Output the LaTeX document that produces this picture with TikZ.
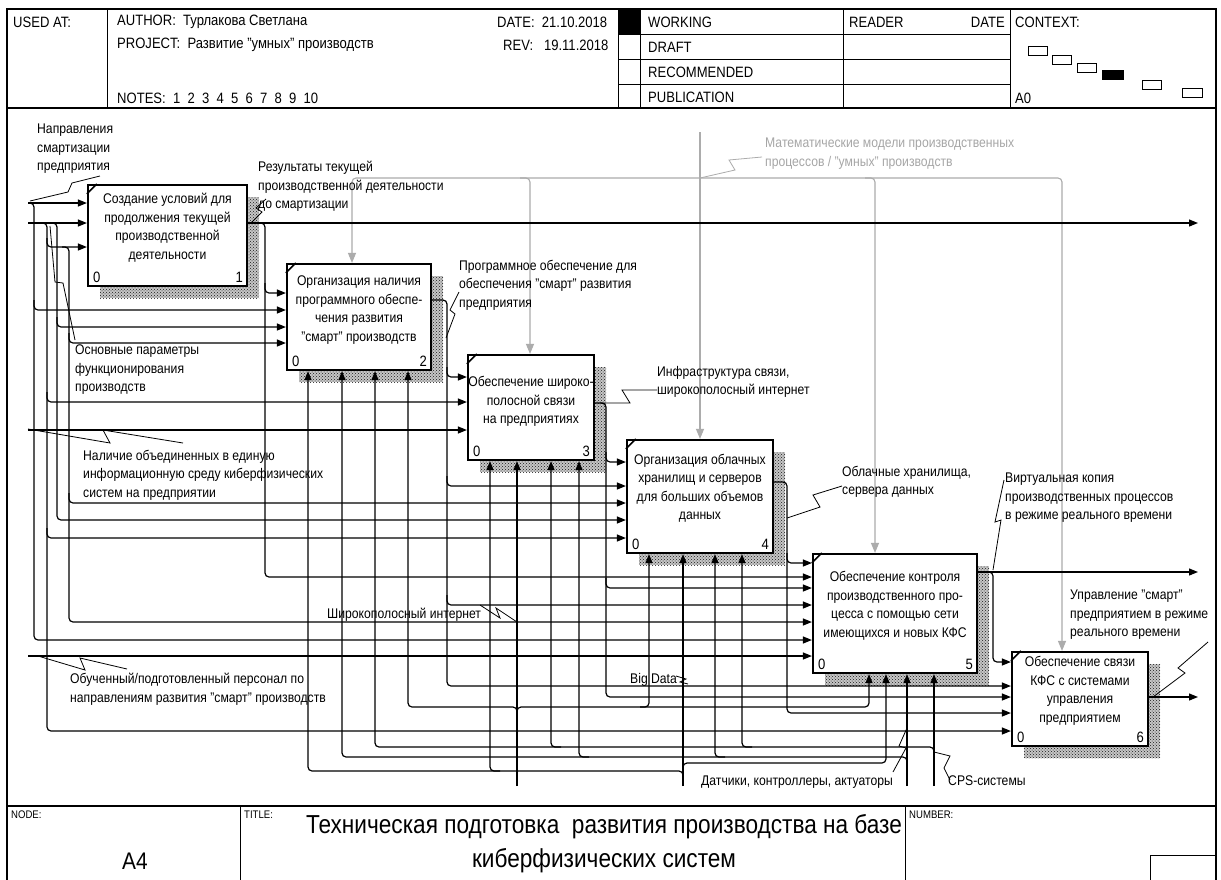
\documentclass[tikz,border=0pt]{standalone}
\usepackage{fontspec}
\setmainfont[FakeStretch=0.87]{Liberation Sans}
\usetikzlibrary{arrows.meta,patterns}
\tikzset{
  wire/.style={line width=1.2pt, rounded corners=4pt},
  arr/.style={wire, -{Triangle[length=9pt,width=7pt]}},
  gwire/.style={line width=1.1pt, draw=gray!65, rounded corners=4pt},
  garr/.style={gwire, -{Triangle[length=10pt,width=8pt]}},
  leader/.style={line width=0.8pt},
  gleader/.style={line width=0.8pt, draw=gray!65},
  box/.style={draw, line width=2.2pt, fill=white, inner sep=0pt},
  shadowfill/.style={preaction={fill=gray!45}, pattern=crosshatch dots, pattern color=black!90},
  lbl/.style={font=\fontsize{14}{18.5}\selectfont, inner sep=0pt, align=left, anchor=north west},
  btxt/.style={font=\fontsize{14}{18.5}\selectfont, inner sep=0pt, align=center},
  hdr/.style={font=\fontsize{15}{18}\selectfont, inner sep=0pt, anchor=west},
  small/.style={font=\fontsize{11}{13}\selectfont, inner sep=0pt, anchor=west},
  num/.style={font=\fontsize{15}{18}\selectfont, inner sep=0pt},
  ctx/.style={draw, line width=1pt}
}
\begin{document}
\begin{tikzpicture}[x=1pt,y=-1pt]
\useasboundingbox (0,0) rectangle (1221,879);
\fill[white] (0,0) rectangle (1221,879);

% ---------------- frame, header, footer
\draw[line width=1.3pt] (7,9) rectangle (1216,885);
\draw[line width=1.3pt] (7,108) -- (1216,108);
\draw[line width=1pt] (107,9) -- (107,108);
\draw[line width=1pt] (618,9) -- (618,108);
\draw[line width=1pt] (640,9) -- (640,108);
\draw[line width=1pt] (843,9) -- (843,108);
\draw[line width=1pt] (1010,9) -- (1010,108);
\draw[line width=1pt] (618,34) -- (1010,34);
\draw[line width=1pt] (618,59) -- (1010,59);
\draw[line width=1pt] (618,84) -- (1010,84);
\fill[black] (618,9) rectangle (640,34);

\node[hdr] (usedat) at (13,22) {USED AT:};
\node[hdr] (author) at (117,22) {AUTHOR:\ \ Турлакова Светлана};
\node[hdr] (project) at (117,45) {PROJECT:\ \ Развитие "умных" производств};
\node[hdr] (notes) at (117,98) {NOTES:\ \ 1\ \ 2\ \ 3\ \ 4\ \ 5\ \ 6\ \ 7\ \ 8\ \ 9\ \ 10};
\node[hdr] (date) at (497,22) {DATE:\ \ 21.10.2018};
\node[hdr] (rev) at (503,45) {REV:\ \ \ 19.11.2018};
\node[hdr] (working) at (648,22) {WORKING};
\node[hdr] (draft) at (648,47) {DRAFT};
\node[hdr] (recommended) at (648,72) {RECOMMENDED};
\node[hdr] (publication) at (648,97) {PUBLICATION};
\node[hdr] (reader) at (849,22) {READER};
\node[hdr, anchor=east] (rdate) at (1005,22) {DATE};
\node[hdr] (context) at (1015,22) {CONTEXT:};
\node[hdr] (a0) at (1015,98) {A0};
\draw[ctx] (1028,46) rectangle (1047,55);
\draw[ctx] (1052,55) rectangle (1071,64);
\draw[ctx] (1077,63) rectangle (1096,72);
\fill[black] (1102,70) rectangle (1124,80);
\draw[ctx] (1142,80) rectangle (1161,89);
\draw[ctx] (1182,88) rectangle (1202,97);

\draw[line width=1.3pt] (7,806) -- (1216,806);
\draw[line width=1pt] (240,806) -- (240,885);
\draw[line width=1pt] (905,806) -- (905,885);
\draw[line width=1pt] (1150,855) rectangle (1216,885);
\node[small] (nodelbl) at (11,815) {NODE:};
\node[small] (titlelbl) at (244,815) {TITLE:};
\node[small] (numberlbl) at (909,815) {NUMBER:};
\node[font=\fontsize{24}{28}\selectfont, inner sep=0pt] (a4) at (135,861) {A4};
\node[font=\fontsize{26}{34}\selectfont, inner sep=0pt, align=center] (title) at (604,844)
  {Техническая подготовка~ развития производства на базе\\киберфизических систем};

% ---------------- shadows
\fill[shadowfill] (100,197) rectangle (259,298);
\fill[shadowfill] (299,276) rectangle (443,382);
\fill[shadowfill] (480,367) rectangle (606,472);
\fill[shadowfill] (639,452) rectangle (785,565);
\fill[shadowfill] (825,566) rectangle (989,685);
\fill[shadowfill] (1024,664) rectangle (1160,758);

% ---------------- boxes
\node[box, minimum width=159pt, minimum height=101pt] (b1) at (167.5,235.5) {};
\node[box, minimum width=144pt, minimum height=106pt] (b2) at (359,317) {};
\node[box, minimum width=126pt, minimum height=105pt] (b3) at (531,407.5) {};
\node[box, minimum width=146pt, minimum height=113pt] (b4) at (700,496.5) {};
\node[box, minimum width=164pt, minimum height=119pt] (b5) at (895,613.5) {};
\node[box, minimum width=136pt, minimum height=94pt] (b6) at (1080,699) {};

\foreach \b in {b1,b2,b3,b4,b5,b6}{
  \draw[line width=1.6pt] ([yshift=-10pt]\b.north west) -- ([xshift=10pt]\b.north west);
  \node[num, anchor=south west] at ([xshift=6pt,yshift=4pt]\b.south west) {0};
}
\node[num, anchor=south east] (n1) at ([xshift=-5pt,yshift=4pt]b1.south east) {1};
\node[num, anchor=south east] (n2) at ([xshift=-5pt,yshift=4pt]b2.south east) {2};
\node[num, anchor=south east] (n3) at ([xshift=-5pt,yshift=4pt]b3.south east) {3};
\node[num, anchor=south east] (n4) at ([xshift=-5pt,yshift=4pt]b4.south east) {4};
\node[num, anchor=south east] (n5) at ([xshift=-5pt,yshift=4pt]b5.south east) {5};
\node[num, anchor=south east] (n6) at ([xshift=-5pt,yshift=4pt]b6.south east) {6};

\node[btxt] (t1) at ([yshift=8pt]b1.center) {Создание условий для\\продолжения текущей\\производственной\\деятельности};
\node[btxt] (t2) at ([yshift=7pt]b2.center) {Организация наличия\\программного обеспе-\\чения развития\\"смарт" производств};
\node[btxt] (t3) at ([yshift=6pt]b3.center) {Обеспечение широко-\\полосной связи\\на предприятиях};
\node[btxt] (t4) at ([yshift=8pt]b4.center) {Организация облачных\\хранилищ и серверов\\для больших объемов\\данных};
\node[btxt] (t5) at ([yshift=8pt]b5.center) {Обеспечение контроля\\производственного про-\\цесса с помощью сети\\имеющихся и новых КФС};
\node[btxt] (t6) at ([yshift=8pt]b6.center) {Обеспечение связи\\КФС с системами\\управления\\предприятием};

% ---------------- controls (gray)
\draw[garr] (700,132) -- (b4.north);
\draw[garr] (700,178) -- (352,178) -- (b2.north -| 352,0);
\draw[garr] (520,178) -- (530,178) -- (b3.north -| 530,0);
\draw[garr] (700,178) -- (1062,178) -- (b6.north -| 1062,0);
\draw[garr] (865,178) -- (875,178) -- (b5.north -| 875,0);

% ---------------- left boundary inputs and buses
\draw[arr] (28,203) -- (b1.west |- 0,203);
\draw[arr] (28,203) -- (34,203) -- (34,640) -- (b5.west |- 0,640);
\draw[arr] (34,300) -- (34,310) -- (b2.west |- 0,310);
\draw[arr] (28,223) -- (b1.west |- 0,223);
\draw[arr] (40,223) -- (47,223) -- (47,731) -- (b6.west |- 0,731);
\draw[arr] (47,238) -- (47,247) -- (b1.west |- 0,247);
\draw[arr] (47,392) -- (47,402) -- (b3.west |- 0,402);
\draw[arr] (47,528) -- (47,538) -- (b4.west |- 0,538);
\draw[arr] (50,223) -- (57,223) -- (57,520) -- (b4.west |- 0,520);
\draw[arr] (57,317) -- (57,327) -- (b2.west |- 0,327);
\draw[arr] (62,247) -- (69,247) -- (69,622) -- (b5.west |- 0,622);
\draw[arr] (69,333) -- (69,343) -- (b2.west |- 0,343);
\draw[arr] (69,493) -- (69,503) -- (b4.west |- 0,503);
\draw[arr] (28,430) -- (b3.west |- 0,430);
\draw[arr] (28,656) -- (b5.west |- 0,656);

% ---------------- outputs
\draw[arr] (b1.east |- 0,223) -- (1198,223);
\draw[arr] (257,223) -- (265,223) -- (265,577) -- (b5.west |- 0,577);
\draw[arr] (265,283) -- (265,293) -- (b2.west |- 0,293);

\draw[arr] (b2.east |- 0,300) -- (447,300) -- (447,686) -- (b6.west |- 0,686);
\draw[arr] (447,367) -- (447,377) -- (b3.west |- 0,377);
\draw[arr] (447,476) -- (447,486) -- (b4.west |- 0,486);
\draw[arr] (447,595) -- (447,605) -- (b5.west |- 0,605);

\draw[arr] (b3.east |- 0,403) -- (606,403) -- (606,697) -- (b6.west |- 0,697);
\draw[arr] (606,452) -- (606,462) -- (b4.west |- 0,462);
\draw[arr] (606,578) -- (606,588) -- (b5.west |- 0,588);

\draw[arr] (b4.east |- 0,482) -- (787,482) -- (787,713) -- (b6.west |- 0,713);
\draw[arr] (787,553) -- (787,563) -- (b5.west |- 0,563);

\draw[arr] (b5.east |- 0,572) -- (1198,572);
\draw[arr] (985,572) -- (993,572) -- (993,662) -- (b6.west |- 0,662);

\draw[arr] (b6.east |- 0,697) -- (1198,697);

% ---------------- mechanisms
\draw[arr] (517,786) -- (b3.south -| 517,0);
\draw[arr] (517,717) -- (517,707) -- (408,707) -- (b2.south -| 408,0);
\draw[arr] (517,717) -- (517,707) -- (869,707) -- (b5.south -| 869,0);
\draw[arr] (640,707) -- (649,707) -- (b4.south -| 649,0);

\draw[arr] (683,786) -- (b4.south -| 683,0);
\draw[arr] (683,781) -- (683,771) -- (308,771) -- (b2.south -| 308,0);
\draw[arr] (500,771) -- (490,771) -- (b3.south -| 490,0);
\draw[arr] (683,773) -- (683,763) -- (886,763) -- (b5.south -| 886,0);

\draw[arr] (907,786) -- (b5.south -| 907,0);
\draw[arr] (907,767) -- (907,757) -- (342,757) -- (b2.south -| 342,0);
\draw[arr] (589,757) -- (579,757) -- (b3.south -| 579,0);
\draw[arr] (725,757) -- (715,757) -- (b4.south -| 715,0);

\draw[arr] (934,786) -- (b5.south -| 934,0);
\draw[arr] (934,757) -- (934,747) -- (375,747) -- (b2.south -| 375,0);
\draw[arr] (561,747) -- (551,747) -- (b3.south -| 551,0);
\draw[arr] (752,747) -- (742,747) -- (b4.south -| 742,0);

% ---------------- labels and leaders
\node[lbl] (l_dir) at (37,124) {Направления\\смартизации\\предприятия};
\draw[leader] (100,176) -- (72,183) -- (68,192) -- (30,201);

\node[lbl] (l_res) at (258,161) {Результаты текущей\\производственной деятельности\\до смартизации};
\draw[leader] (251,223) -- (262,212) -- (256,208) -- (266,199);

\node[lbl] (l_par) at (75,345) {Основные параметры\\функционирования\\производств};
\draw[leader] (50,226) -- (55,282) -- (63,283) -- (75,340);

\node[lbl] (l_soft) at (459,260) {Программное обеспечение для\\обеспечения "смарт" развития\\предприятия};
\draw[leader] (446,338) -- (455,314) -- (450,310) -- (459,292);

\node[lbl, text=gray!70] (l_math) at (765,138) {Математические модели производственных\\процессов / "умных" производств};
\draw[gleader] (700,178) -- (735,170) -- (729,160) -- (762,157);

\node[lbl] (l_inf) at (657,366) {Инфраструктура связи,\\широкополосный интернет};
\draw[leader] (600,403) -- (630,403) -- (622,390) -- (657,390);

\node[lbl] (l_cps) at (83,450) {Наличие объединенных в единую\\информационную среду киберфизических\\систем на предприятии};
\draw[leader] (28,429) -- (110,443) -- (103,430) -- (183,443);

\node[lbl] (l_cloud) at (842,466) {Облачные хранилища,\\сервера данных};
\draw[leader] (787,518) -- (820,507) -- (813,495) -- (842,486);

\node[lbl] (l_virt) at (1005,473) {Виртуальная копия\\производственных процессов\\в режиме реального времени};
\draw[leader] (993,570) -- (1001,520) -- (995,522) -- (1004,480);

\node[lbl] (l_ctrl) at (1070,590) {Управление "смарт"\\предприятием в режиме\\реального времени};
\draw[leader] (1153,697) -- (1185,673) -- (1178,668) -- (1208,642);

\node[lbl] (l_pers) at (70,673) {Обученный/подготовленный персонал по\\направлениям развития "смарт" производств};
\draw[leader] (38,656) -- (85,670) -- (80,658) -- (127,669);

\node[lbl] (l_bb) at (327,608) {Широкополосный интернет};
\draw[leader] (480,605) -- (500,618) -- (496,608) -- (517,622);

\node[lbl] (l_bd) at (630,673) {Big Data};
\draw[leader] (676,676) -- (686,679) -- (680,682) -- (688,684);

\node[lbl] (l_sens) at (701,776) {Датчики, контроллеры, актуаторы};
\draw[leader] (893,772) -- (906,748) -- (899,746) -- (907,728);

\node[lbl] (l_cpss) at (948,776) {CPS-системы};
\draw[leader] (934,752) -- (950,756) -- (944,768) -- (950,780);
\end{tikzpicture}
\end{document}
